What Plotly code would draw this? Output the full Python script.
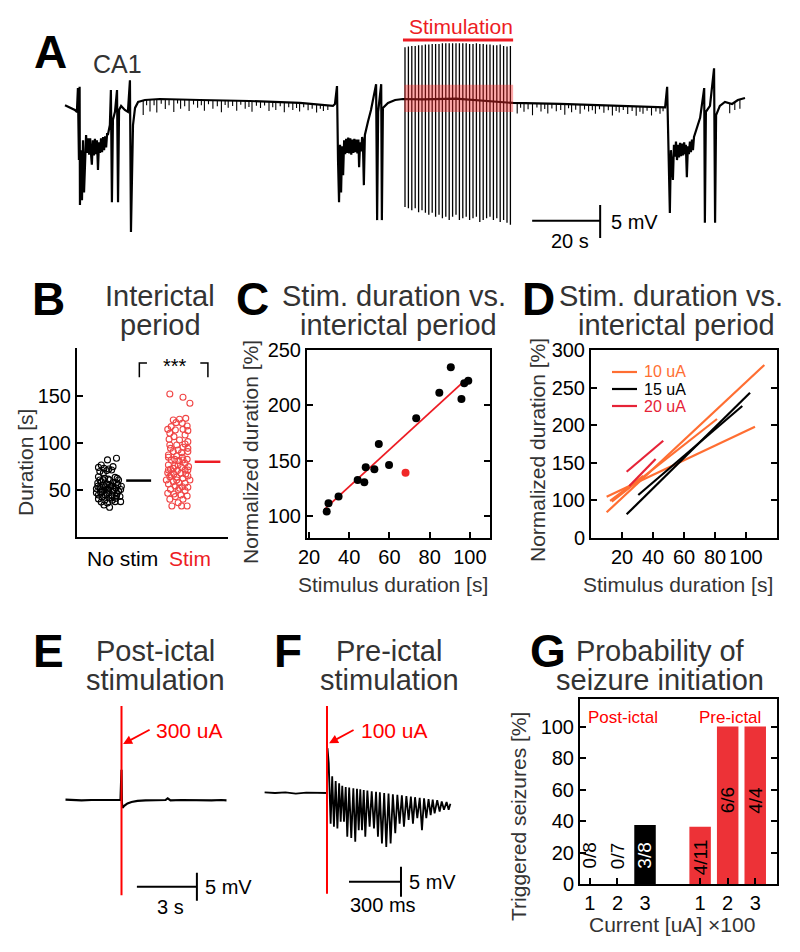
import plotly.graph_objects as go
import numpy as np

# page body has an 8 px margin: the figure is drawn at (8, 8) inside the 800x952 window
OX, OY = 8, 8
FW, FH = 784, 936
FONT = "Liberation Sans, Arial, Helvetica, sans-serif"
RED = "rgb(237,28,36)"
PURE_RED = "rgb(255,0,0)"
GRAY = "#333333"
ORANGE = "rgb(255,110,50)"
CRIMSON = "rgb(230,35,55)"
BAR_RED = "rgb(237,50,55)"
TITLE_SIZE = 29
AXT_SIZE = 21

# ---------------- Panel A data (time s, voltage mV) ----------------
a_t = [0.0, 1.5, 2.9, 3.5, 3.8, 4.1, 4.3, 4.4, 4.7, 5.0, 5.3, 5.6,
       5.9, 6.2, 6.5, 6.8, 7.1, 7.4, 7.7, 7.9, 8.2, 8.5, 8.8, 9.1, 9.4, 9.7, 10.0, 10.3, 10.6, 10.9, 11.2, 11.5,
       11.8, 12.1, 12.4, 12.6,
       13.2, 13.5, 13.8, 14.1, 14.7, 15.3, 15.6, 15.9, 16.5, 17.6, 18.5, 19.1, 19.4, 19.7, 20.0,
       20.6, 21.5, 23.5, 27.9, 39.7, 54.4, 69.1, 78.8,
       79.4, 80.0, 80.3, 80.6, 80.9, 81.2, 81.5, 81.8,
       82.1, 82.4, 82.7, 83.0, 83.3, 83.6, 83.9, 84.2, 84.5, 84.8, 85.1, 85.4, 85.7, 86.0, 86.3, 86.5, 86.8, 87.1,
       87.4, 87.6, 87.9, 88.2,
       89.1, 90.0, 91.5, 91.8, 92.1, 93.0, 93.2, 93.5, 95.0, 97.1, 99.4, 105.0, 115.0, 125.0, 131.8, 145.6, 163.2,
       176.5,
       177.1, 177.4, 177.9, 178.2, 178.8,
       179.1, 179.4, 179.7, 180.0, 180.3, 180.6, 180.9, 181.2, 181.5, 181.8, 182.1, 182.4, 182.6, 182.9, 183.2,
       183.5, 183.8, 184.1, 184.4, 184.7, 185.0, 185.9,
       186.8, 188.0, 188.2, 188.5, 189.7, 190.9, 191.2, 191.5, 192.6, 194.1, 196.2, 197.9, 200.0]
a_v = [-0.8, -1.2, -1.5, -1.8, 1.8, -9.1, 2.0, -15.9, -7.6, -15.2, -6.1, -14.0,
       -7.6, -5.3, -8.0, -5.8, -8.3, -5.8, -8.5, -9.8, -6.1, -8.4, -5.9, -8.2, -6.1, -10.6, -6.4, -8.0, -5.8, -7.9,
       -5.6, -7.6, -5.5, -7.2, -5.0, -5.3,
       -3.8, 1.5, -15.5, -3.0, -1.8, 1.5, -15.5, -1.5, -0.9, -1.5, -1.8, 3.0, -20.0, -7.6, -3.8,
       -1.2, -0.3, 0.0, 0.15, 0.0, -0.15, -0.45, -0.9,
       -0.6, 2.1, -9.1, -15.5, -6.8, -14.0, -7.0, -11.4,
       -6.1, -8.2, -5.9, -8.0, -5.7, -8.1, -5.8, -8.3, -6.0, -8.0, -5.9, -7.9, -6.0, -8.1, -6.0, -10.2, -6.4, -7.8,
       -5.6, -6.1, -12.9, -5.3,
       -3.3, -1.5, 2.4, -18.2, -1.8, 2.4, -18.2, -1.2, -0.45, 0.0, 0.15, 0.1, 0.2, -0.2, -0.45, -0.6, -0.9,
       -1.1,
       2.0, -7.6, -17.1, -7.6, -12.1,
       -6.8, -8.6, -6.3, -9.1, -6.8, -8.7, -6.5, -8.5, -6.6, -8.4, -6.4, -8.2, -6.8, -11.7, -7.0,
       -8.2, -6.3, -7.9, -6.0, -7.6, -5.6, -4.2,
       -2.7, 1.8, -18.6, -1.8, -0.9, 4.8, -18.6, -2.3, -0.9, -0.3, -0.6, 0.0, 0.3]
# small interictal spikes on the baseline
a_spk_t = [23, 24, 25, 26.2, 27, 28.3, 29.5, 30.6, 32, 33.1, 34, 35.2, 36.5, 37.8, 39, 40.1, 41, 42.2, 43.5, 44.8,
           46, 47.1, 48, 49.3, 50.5, 51.7, 53, 54.1, 55, 56.3, 57.5, 58.7, 60, 61.1, 62, 63.3, 64.5, 65.8, 67, 68.1,
           69, 70.2, 71.5, 72.7, 74, 75.1, 76, 77.3,
           133, 134, 135, 136.2, 137.5, 138.8, 140, 141.1, 142, 143.2, 144.5, 145.8, 147, 148.1, 149, 150.2, 151.5,
           152.8, 154, 155.1, 156, 157.2, 158.5, 159.8, 161, 162.1, 163, 164.2, 165.5, 166.8, 168, 169.1, 170,
           171.2, 172.5, 173.8, 175, 175.9, 195.5, 197, 198.5]
a_spk_v = [-2.2, -0.8, -1.8, -0.9, -2.0, -0.7, -1.5, -0.9, -1.9, -0.6, -1.4, -1.0, -1.7, -0.7, -1.2, -0.8, -1.6,
           -0.6, -1.3, -0.9, -1.8, -0.7, -1.1, -0.8, -1.5, -0.6, -1.2, -0.9, -1.6, -0.7, -1.0, -0.6, -1.4, -0.8,
           -1.2, -0.6, -1.5, -0.7, -1.1, -0.8, -1.3, -0.6, -1.0, -0.7, -1.2, -0.6, -0.9, -0.7,
           -1.6, -0.7, -1.3, -0.9, -1.8, -0.6, -1.2, -0.8, -1.5, -0.7, -1.1, -0.9, -1.6, -0.6, -1.2, -0.8, -1.4,
           -0.7, -1.0, -0.8, -1.3, -0.6, -1.1, -0.7, -1.5, -0.8, -1.0, -0.6, -1.2, -0.7, -1.4, -0.8, -1.1, -0.6,
           -1.3, -0.7, -1.0, -0.6, -1.5, -1.2, -1.4]
# stimulation pulses (1 Hz train)
pulse_t = [100, 101, 102, 103, 104, 105, 106, 107, 108, 109, 110, 111, 112, 113, 114, 115, 116, 117, 118, 119, 120,
           121, 122, 123, 124, 125, 126, 127, 128, 129, 130, 131]
pulse_top = [8.0, 8.1, 8.2, 8.2, 8.3, 8.3, 8.4, 8.4, 8.5, 8.5, 8.5, 8.6, 8.6, 8.6, 8.6, 8.6, 8.6, 8.6, 8.6, 8.5, 8.5,
             8.6, 8.5, 8.5, 8.4, 8.4, 8.3, 8.3, 8.4, 8.2, 8.1, 8.2]
pulse_bot = [-16.2, -16.4, -16.7, -16.4, -17.0, -16.7, -17.1, -17.4, -17.1, -17.7, -17.4, -17.9, -17.7, -18.2, -17.7,
             -17.4, -18.2, -17.9, -17.7, -18.2, -17.9, -17.7, -18.5, -18.2, -17.9, -17.7, -18.2, -17.9, -18.5, -18.2,
             -18.6, -18.9]
stim_bar_t = [99.4, 131.8]
stim_bar_v = 9.1
stim_band_v = [-1.8, 2.3]
a_scale_t = [137.4, 157.4]   # 20 s
a_scale_v = [-15.9, -20.9]   # 5 mV
a_scale_h = -18.3

# ---------------- Panel B data ----------------
b_nostim_off = [0.11, -0.02, 0.06, -0.11, -0.15, -0.07, 0.0, -0.13, -0.03, -0.08, 0.04, -0.15, -0.06, 0.09, 0.14,
                0.01, -0.11, -0.16, 0.06, -0.03, 0.13, -0.08, -0.13, 0.03, 0.1, -0.18, -0.02, 0.17, -0.07, 0.06,
                -0.12, 0.0, 0.12, -0.15, -0.05, 0.05, 0.16, -0.1, 0.0, 0.1, -0.15, -0.06, 0.05, 0.17, -0.11, -0.02,
                -0.07, 0.01, 0.11, -0.01, -0.13, 0.08, 0.14, -0.03, -0.08, -0.18, 0.11, 0.01, 0.18, -0.16, 0.04,
                -0.12, -0.05, 0.09, -0.01, 0.12, -0.1, 0.06]
b_nostim_val = [83.7, 82, 74.8, 76.5, 74, 73, 72.3, 69.6, 70.6, 67.9, 71.3, 64, 62.4, 63.4, 60.6, 60.6, 59, 57.4, 58,
                56.7, 55.7, 54.7, 53.2, 53.9, 52.2, 51.2, 51.2, 50.5, 49.8, 48.8, 47.7, 47.0, 46.4, 44.7, 44.4, 43.7,
                43.1, 42.4, 41.5, 41.1, 40.5, 39.1, 39.1, 37.6, 37.1, 36.2, 34.0, 31.6, 57.4, 49.8, 60.6, 50.5, 48.8,
                46.4, 60.6, 47.0, 43.7, 55.7, 53.9, 53.9, 41.5, 51.2, 53.2, 37.6, 61.5, 62.4, 47.7, 53.9]
b_stim_off = [-0.12, 0.07, 0.17, -0.07, 0.02, 0.11, -0.03, 0.06, -0.10, 0.13, -0.15, -0.04, 0.07, 0.14, -0.13, -0.06,
              0.02, 0.14, 0.10, -0.02, -0.11, 0.07, 0.0, -0.07, 0.14, -0.14, -0.02, 0.06, 0.13, -0.10, 0.01, 0.10,
              -0.14, -0.05, 0.05, 0.15, -0.11, -0.01, 0.10, -0.15, -0.06, 0.04, 0.14, -0.12, -0.02, 0.07, -0.07, 0.01,
              0.10, -0.14, -0.04, 0.06, 0.14, -0.11, 0.0, 0.10, -0.15, -0.06, 0.04, 0.13, -0.04, -0.12, 0.07, 0.0,
              -0.09, 0.05, 0.13, -0.14, 0.14, -0.12, 0.05, -0.05, 0.11, -0.17, 0.17, 0.02, -0.07, 0.07, 0.0, -0.14,
              -0.02, 0.14, -0.10, 0.10, -0.12]
b_stim_val = [152.1, 148.6, 142.2, 124.5, 125.2, 126.2, 121.6, 120.9, 117.4, 118.1, 114.5, 113.8, 114.5, 113.1,
              103.9, 106.7, 103.2, 101.4, 98.9, 97.9, 94.3, 95.4, 92.6, 90.8, 90.8, 84.8, 86.2, 84.8, 82.6, 81.9,
              81.2, 78.4, 76.6, 75.5, 74.1, 74.8, 72.0, 70.6, 71.3, 68.4, 67.0, 67.7, 64.9, 64.2, 63.5, 62.4, 58.9,
              57.8, 57.1, 56.4, 54.3, 53.5, 52.9, 50.7, 50.0, 49.3, 46.5, 45.7, 44.7, 43.6, 42.9, 40.1, 40.1, 36.5,
              33.0, 33.0, 33.0, 87.2, 94.3, 97.9, 89.7, 82.6, 67.0, 60.6, 60.6, 51.8, 73.0, 81.9, 76.6, 71.3, 60.6,
              71.3, 65.9, 108.5, 110.3]
b_mean = [60, 80]
b_mean_x = [[1.25, 1.61], [2.24, 2.61]]
b_categories = ["No stim", "Stim"]

# ---------------- Panel C data ----------------
c_x = [28.8, 29.7, 34.7, 44.2, 47.5, 48.2, 52.5, 54.7, 59.8, 73.3, 84.8, 90.5, 95.8, 97.2, 99.2]
c_y = [103.9, 111.5, 117.5, 132.5, 130.4, 144, 142.2, 165, 146, 188.3, 211.4, 234.3, 205.7, 219.9, 222.2]
c_out_x = [68]
c_out_y = [139.1]
c_fit_x = [28.3, 99.2]
c_fit_y = [107, 225.3]

# ---------------- Panel D data ----------------
d_lines = [  # (x0, y0, x1, y1, group)
    (10.1, 83.6, 111.8, 280.0, "10 uA"),
    (10.1, 104.4, 105.8, 197.7, "10 uA"),
    (13.4, 97.7, 81.3, 208.0, "10 uA"),
    (12.3, 98.7, 33.7, 132.0, "10 uA"),
    (23.0, 80.9, 102.6, 243.0, "15 uA"),
    (30.5, 106.7, 97.6, 225.3, "15 uA"),
    (23.0, 137.7, 46.6, 179.0, "20 uA"),
    (24.7, 118.7, 41.7, 154.7, "20 uA"),
]
d_groups = ["10 uA", "15 uA", "20 uA"]
d_colors = {"10 uA": ORANGE, "15 uA": "black", "20 uA": CRIMSON}

# ---------------- Panel E data (s, mV) ----------------
e_t = [-2.8, -2.5, -2.0, -1.5, -1.0, -0.5, -0.05, 0.0, 0.02, 0.05, 0.15, 0.3, 0.5, 0.8, 1.2, 1.8, 2.2, 2.31, 2.45,
       3.0, 3.5, 4.0, 4.5, 5.0, 5.25]
e_v = [0.05, 0.0, -0.05, 0.0, 0.05, 0.0, 0.0, 5.4, -0.5, -1.4, -1.0, -0.6, -0.35, -0.15, -0.05, -0.03, 0.0, 0.3,
       -0.05, 0.0, -0.05, 0.0, -0.05, 0.0, -0.05]
e_stim_v = [16.8, -17.0]
e_scale_t = [0.77, 3.77]
e_scale_v = [-13.0, -18.0]
e_scale_h = -15.5

# ---------------- Panel F data (ms, mV) ----------------
f_base_t = [-360, -300, -240, -180, -120, -60, -10, 0]
f_base_v = [0.1, 0.0, 0.1, -0.1, 0.05, 0.0, 0.05, 0.0]
f_peak_t = [3, 10, 30, 50, 70, 88, 108, 128, 152, 173, 192, 212, 233, 258, 283, 305, 330, 355, 380, 406, 432, 458,
            484, 508, 535, 560, 586, 610, 636, 662, 690, 712]
f_peak_v = [7.5, 5.0, 2.8, 2.0, 1.6, 1.2, 1.0, 0.9, 0.8, 0.7, 0.6, 0.5, 0.4, 0.3, 0.2, 0.1, 0.0, -0.1, -0.2, -0.3,
            -0.4, -0.5, -0.6, -0.7, -0.8, -0.9, -1.0, -1.1, -1.2, -1.4, -1.5, -1.8]
f_spike_t = [21, 40, 60, 79, 98, 117, 140, 163, 183, 202, 221, 246, 271, 294, 317, 342, 367, 394, 419, 444, 471, 496,
             521, 548, 573, 598, 621, 650, 675, 702]
f_spike_v = [-5.1, -5.6, -5.9, -4.8, -4.8, -7.3, -7.5, -8.1, -6.2, -6.2, -7.3, -5.6, -5.9, -7.3, -8.4, -9.0, -8.4,
             -6.7, -5.1, -5.6, -4.5, -5.1, -4.2, -6.2, -4.2, -3.7, -3.4, -3.1, -2.8, -2.8]
f_stim_v = [14.5, -16.8]
f_scale_t = [127, 427]
f_scale_v = [-12.3, -17.3]
f_scale_h = -14.8

# ---------------- Panel G data ----------------
g_pos = [0, 1, 2, 4, 5, 6]
g_ticktext = ["1", "2", "3", "1", "2", "3"]
g_values = [0, 0, 37.5, 36.4, 100, 100]
g_labels = ["0/8", "0/7", "3/8", "4/11", "6/6", "4/4"]
g_colors = ["black", "black", "black", BAR_RED, BAR_RED, BAR_RED]
g_label_y = [18, 18, 18, 17, 53, 53]
g_label_color = ["black", "black", "white", "black", "black", "black"]

# ---------------- helpers (window pixel -> paper) ----------------
def xdom(p0, p1):
    return [(p0 - OX) / FW, (p1 - OX) / FW]

def ydom(top, bottom):
    return [1 - (bottom - OY) / FH, 1 - (top - OY) / FH]

def lin_dom(r, p0, scale, is_y=False):
    if is_y:
        return ydom(p0 - scale * r[1], p0 - scale * r[0])
    return xdom(p0 + scale * r[0], p0 + scale * r[1])

def ann(text, x, y, size=20, color="black", bold=False, xanchor="center", yanchor="middle", angle=0):
    return dict(text=("<b>%s</b>" % text) if bold else text, x=(x - OX) / FW, y=1 - (y - OY) / FH,
                xref="paper", yref="paper", showarrow=False, font=dict(size=size, color=color, family=FONT),
                xanchor=xanchor, yanchor=yanchor, textangle=angle)

fig = go.Figure()

# ---- A ----
fig.add_trace(go.Scatter(x=a_t, y=a_v, mode="lines", line=dict(color="black", width=2.2), xaxis="x", yaxis="y"))
base_at = np.interp(a_spk_t, a_t, a_v)
sx, sy = [], []
for t, b, d in zip(a_spk_t, base_at, a_spk_v):
    sx += [t, t, None]
    sy += [b, b + d, None]
fig.add_trace(go.Scatter(x=sx, y=sy, mode="lines", line=dict(color="black", width=1.1), xaxis="x", yaxis="y"))
px_, py_ = [], []
for t, tp, bt in zip(pulse_t, pulse_top, pulse_bot):
    px_ += [t, t, None]
    py_ += [tp, bt, None]
fig.add_trace(go.Scatter(x=px_, y=py_, mode="lines", line=dict(color="black", width=1.3), xaxis="x", yaxis="y"))
fig.add_trace(go.Scatter(x=stim_bar_t, y=[stim_bar_v] * 2, mode="lines", line=dict(color=RED, width=3),
                         xaxis="x", yaxis="y"))
fig.add_trace(go.Scatter(x=[a_scale_t[0], a_scale_t[1], None, a_scale_t[1], a_scale_t[1]],
                         y=[a_scale_h, a_scale_h, None, a_scale_v[0], a_scale_v[1]],
                         mode="lines", line=dict(color="black", width=2), xaxis="x", yaxis="y"))

# ---- B ----
fig.add_trace(go.Scatter(x=[1 + o for o in b_nostim_off], y=b_nostim_val, mode="markers",
                         marker=dict(symbol="circle-open", size=6, color="black", line=dict(width=1.1)),
                         xaxis="x2", yaxis="y2"))
fig.add_trace(go.Scatter(x=[2 + o for o in b_stim_off], y=b_stim_val, mode="markers",
                         marker=dict(symbol="circle-open", size=6, color="rgb(240,70,70)", line=dict(width=1.1)),
                         xaxis="x2", yaxis="y2"))
for m, xs, col in zip(b_mean, b_mean_x, ["black", RED]):
    fig.add_trace(go.Scatter(x=xs, y=[m, m], mode="lines", line=dict(color=col, width=2.5), xaxis="x2", yaxis="y2"))
fig.add_trace(go.Scatter(x=[1.44, 1.44, 1.55, None, 2.32, 2.43, 2.43], y=[170, 185, 185, None, 185, 185, 170],
                         mode="lines", line=dict(color="black", width=1.5), xaxis="x2", yaxis="y2"))

# ---- C ----
fig.add_trace(go.Scatter(x=c_fit_x, y=c_fit_y, mode="lines", line=dict(color=RED, width=1.8), xaxis="x3", yaxis="y3"))
fig.add_trace(go.Scatter(x=c_x, y=c_y, mode="markers", marker=dict(size=8, color="black"), xaxis="x3", yaxis="y3"))
fig.add_trace(go.Scatter(x=c_out_x, y=c_out_y, mode="markers", marker=dict(size=8, color="rgb(240,40,40)"),
                         xaxis="x3", yaxis="y3"))

# ---- D ----
for x0, y0, x1, y1, g in d_lines:
    fig.add_trace(go.Scatter(x=[x0, x1], y=[y0, y1], mode="lines", line=dict(color=d_colors[g], width=2.2),
                             xaxis="x4", yaxis="y4"))

# ---- E ----
fig.add_trace(go.Scatter(x=e_t, y=e_v, mode="lines", line=dict(color="black", width=2.2), xaxis="x5", yaxis="y5"))
fig.add_trace(go.Scatter(x=[0, 0], y=e_stim_v, mode="lines", line=dict(color=PURE_RED, width=2), xaxis="x5", yaxis="y5"))
fig.add_trace(go.Scatter(x=[e_scale_t[0], e_scale_t[1], None, e_scale_t[1], e_scale_t[1]],
                         y=[e_scale_h, e_scale_h, None, e_scale_v[0], e_scale_v[1]],
                         mode="lines", line=dict(color="black", width=2), xaxis="x5", yaxis="y5"))

# ---- F ----
ft = list(f_base_t)
fv = list(f_base_v)
ft.append(f_peak_t[0]); fv.append(f_peak_v[0])
ft.append(f_peak_t[1]); fv.append(f_peak_v[1])
for i, (st, sv) in enumerate(zip(f_spike_t, f_spike_v)):
    ft.append(st); fv.append(sv)
    ft.append(f_peak_t[i + 2]); fv.append(f_peak_v[i + 2])
fig.add_trace(go.Scatter(x=ft, y=fv, mode="lines", line=dict(color="black", width=1.8), xaxis="x6", yaxis="y6"))
fig.add_trace(go.Scatter(x=[0, 0], y=f_stim_v, mode="lines", line=dict(color=PURE_RED, width=2), xaxis="x6", yaxis="y6"))
fig.add_trace(go.Scatter(x=[f_scale_t[0], f_scale_t[1], None, f_scale_t[1], f_scale_t[1]],
                         y=[f_scale_h, f_scale_h, None, f_scale_v[0], f_scale_v[1]],
                         mode="lines", line=dict(color="black", width=2), xaxis="x6", yaxis="y6"))

# ---- G ----
fig.add_trace(go.Bar(x=g_pos, y=g_values, width=0.78, marker=dict(color=g_colors, line=dict(width=0)),
                     xaxis="x7", yaxis="y7"))

# ---------------- layout ----------------
hidden = dict(visible=False, showgrid=False, zeroline=False, automargin=False)
tickfont = dict(size=20, color="black", family=FONT)
boxax = dict(showline=True, linecolor="black", linewidth=2, ticks="inside", ticklen=6, tickwidth=1.5,
             tickcolor="black", showgrid=False, zeroline=False, tickfont=tickfont, automargin=False)

A_xr, A_yr = [-2, 202], [-22, 10.5]
E_xr, E_yr = [-3, 5.5], [-20, 17]
F_xr, F_yr = [-380, 740], [-18.5, 15]

layout = dict(
    width=FW, height=FH, margin=dict(l=0, r=0, t=0, b=0, pad=0, autoexpand=False), autosize=False,
    paper_bgcolor="white", plot_bgcolor="white", showlegend=False,
    font=dict(family=FONT, color="black"),
    xaxis=dict(hidden, domain=lin_dom(A_xr, 65, 3.4), range=A_xr, anchor="y"),
    yaxis=dict(hidden, domain=lin_dom(A_yr, 100, 6.6, True), range=A_yr, anchor="x"),
    xaxis2=dict(domain=xdom(77, 228), range=[0.54, 2.72], anchor="y2", showline=True, linecolor="black",
                linewidth=2, showticklabels=False, ticks="", showgrid=False, zeroline=False, automargin=False),
    yaxis2=dict(boxax, domain=ydom(348, 537), range=[0, 201], anchor="x2", tickvals=[50, 100, 150]),
    xaxis3=dict(boxax, domain=xdom(307, 490), range=[19, 110], anchor="y3", mirror=True,
                tickvals=[20, 40, 60, 80, 100]),
    yaxis3=dict(boxax, domain=ydom(350, 538), range=[80, 250], anchor="x3", mirror="ticks",
                tickvals=[100, 150, 200, 250]),
    xaxis4=dict(boxax, domain=xdom(591, 777), range=[0, 120], anchor="y4", mirror=True,
                tickvals=[20, 40, 60, 80, 100], tickangle=0),
    yaxis4=dict(boxax, domain=ydom(350, 537.5), range=[50, 300], anchor="x4", mirror="ticks",
                tickvals=[50, 100, 150, 200, 250, 300], ticktext=["0", "100", "150", "200", "250", "300"]),
    xaxis5=dict(hidden, domain=lin_dom(E_xr, 121.5, 20.0), range=E_xr, anchor="y5"),
    yaxis5=dict(hidden, domain=lin_dom(E_yr, 800, 5.6, True), range=E_yr, anchor="x5"),
    xaxis6=dict(hidden, domain=lin_dom(F_xr, 327, 0.1733), range=F_xr, anchor="y6"),
    yaxis6=dict(hidden, domain=lin_dom(F_yr, 793, 6.0, True), range=F_yr, anchor="x6"),
    xaxis7=dict(boxax, domain=xdom(580, 777), range=[-0.36, 6.79], anchor="y7", mirror=True,
                tickvals=g_pos, ticktext=g_ticktext),
    yaxis7=dict(boxax, domain=ydom(699, 884), range=[0, 117.5], anchor="x7", mirror="ticks",
                tickvals=[0, 20, 40, 60, 80, 100]),
)
fig.update_layout(**layout)

shapes = [
    dict(type="rect", xref="x", yref="y", x0=stim_bar_t[0] + 0.4, x1=stim_bar_t[1], y0=stim_band_v[0],
         y1=stim_band_v[1], fillcolor="rgba(255,40,40,0.4)", line=dict(width=0), layer="above"),
]
for g, yy in zip(d_groups, [372, 389, 406]):
    shapes.append(dict(type="line", xref="paper", yref="paper", x0=(612 - OX) / FW, x1=(637 - OX) / FW,
                       y0=1 - (yy - OY) / FH, y1=1 - (yy - OY) / FH, line=dict(color=d_colors[g], width=2.2)))
fig.update_layout(shapes=shapes)

anns = [
    ann("A", 50, 52, size=46, bold=True),
    ann("CA1", 117, 64, size=25, color=GRAY),
    ann("Stimulation", 461, 26, size=21, color=RED),
    ann("20 s", 570, 241, size=20),
    ann("5 mV", 609, 222, size=20, xanchor="left"),
    ann("B", 48, 299, size=46, bold=True),
    ann("Interictal", 160, 296, size=TITLE_SIZE, color=GRAY),
    ann("period", 160, 325, size=TITLE_SIZE, color=GRAY),
    ann("***", 175, 366, size=20),
    ann(b_categories[0], 122, 558, size=21),
    ann(b_categories[1], 190, 558, size=21, color=RED),
    ann("Duration [s]", 25, 463, size=AXT_SIZE, color=GRAY, angle=-90),
    ann("C", 252, 299, size=46, bold=True),
    ann("Stim. duration vs.", 394, 296, size=TITLE_SIZE, color=GRAY),
    ann("interictal period", 398, 325, size=TITLE_SIZE, color=GRAY),
    ann("Normalized duration [%]", 250, 452, size=AXT_SIZE, color=GRAY, angle=-90),
    ann("Stimulus duration [s]", 393, 584, size=AXT_SIZE, color=GRAY),
    ann("D", 538, 299, size=46, bold=True),
    ann("Stim. duration vs.", 671, 296, size=TITLE_SIZE, color=GRAY),
    ann("interictal period", 676, 325, size=TITLE_SIZE, color=GRAY),
    ann("Normalized duration [%]", 537, 450, size=AXT_SIZE, color=GRAY, angle=-90),
    ann("Stimulus duration [s]", 678, 584, size=AXT_SIZE, color=GRAY),
    ann("E", 48, 651, size=46, bold=True),
    ann("Post-ictal", 155, 651, size=TITLE_SIZE, color=GRAY),
    ann("stimulation", 155, 680, size=TITLE_SIZE, color=GRAY),
    ann("300 uA", 154, 730, size=21, color=PURE_RED, xanchor="left"),
    ann("5 mV", 203, 887, size=20, xanchor="left"),
    ann("3 s", 170, 907, size=20),
    ann("F", 288, 651, size=46, bold=True),
    ann("Pre-ictal", 389, 651, size=TITLE_SIZE, color=GRAY),
    ann("stimulation", 389, 680, size=TITLE_SIZE, color=GRAY),
    ann("100 uA", 359, 730, size=21, color=PURE_RED, xanchor="left"),
    ann("5 mV", 407, 882, size=20, xanchor="left"),
    ann("300 ms", 383, 905, size=20),
    ann("G", 548, 651, size=46, bold=True),
    ann("Probability of", 660, 651, size=TITLE_SIZE, color=GRAY),
    ann("seizure initiation", 660, 680, size=TITLE_SIZE, color=GRAY),
    ann("Post-ictal", 623, 717, size=17, color=PURE_RED),
    ann("Pre-ictal", 730, 717, size=17, color=PURE_RED),
    ann("Current [uA] ×100", 672, 924, size=21, color=GRAY),
    ann("Triggered seizures [%]", 518, 817, size=21, color=GRAY, angle=-90),
]
for g, yy in zip(d_groups, [372, 389, 406]):
    anns.append(ann(g, 642, yy, size=16, color=d_colors[g], xanchor="left"))
for p, lab, ly, lc in zip(g_pos, g_labels, g_label_y, g_label_color):
    anns.append(dict(text=lab, x=p, y=ly, xref="x7", yref="y7", showarrow=False, textangle=-90,
                     font=dict(size=19, color=lc, family=FONT), xanchor="center", yanchor="middle"))
anns.append(dict(text="", x=0.08, y=10, xref="x5", yref="y5", ax=28, ay=-15, showarrow=True, arrowhead=2,
                 arrowsize=1, arrowwidth=1.8, arrowcolor=PURE_RED, standoff=0))
anns.append(dict(text="", x=12, y=8.3, xref="x6", yref="y6", ax=26, ay=-14, showarrow=True, arrowhead=2,
                 arrowsize=1, arrowwidth=1.8, arrowcolor=PURE_RED, standoff=0))
fig.update_layout(annotations=anns)

fig.write_html("out.html")
